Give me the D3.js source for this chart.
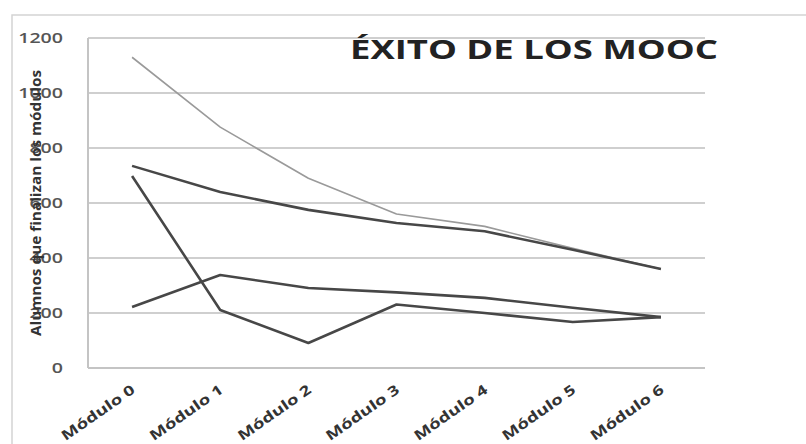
<!DOCTYPE html>
<html><head><meta charset="utf-8">
<script src="https://cdn.jsdelivr.net/npm/d3@7"></script>
<style>body{margin:0;background:#fff}svg{display:block}</style>
</head><body>
<script>
const categories = ["Módulo 0","Módulo 1","Módulo 2","Módulo 3","Módulo 4","Módulo 5","Módulo 6"];
const seriesA = [1130, 876, 690, 560, 515, 435, 360];
const seriesB = [735, 640, 575, 527, 497, 430, 360];
const seriesC = [698, 211, 91, 231, 200, 167, 185];
const seriesD = [222, 338, 291, 275, 255, 219, 185];
const yTicks = [0, 200, 400, 600, 800, 1000, 1200];
const title = "ÉXITO DE LOS MOOC";
const yTitle = "Alumnos que finalizan los módulos";

const W = 806, H = 444;
const svg = d3.select("body").append("svg").attr("width", W).attr("height", H);
svg.append("rect").attr("x", 12).attr("y", 15).attr("width", 820).attr("height", 460)
  .attr("fill", "#fff").attr("stroke", "#d4d4d4").attr("stroke-width", 1.5);

const x = d3.scaleBand().domain(categories).range([88, 705]);
const y = d3.scaleLinear().domain([0, 1200]).range([368, 38]);

// gridlines
svg.append("g").selectAll("line").data(yTicks.filter(d => d > 0)).join("line")
  .attr("x1", 88).attr("x2", 705).attr("y1", d => y(d)).attr("y2", d => y(d))
  .attr("stroke", "#cfcfcf").attr("stroke-width", 2);
// axes lines
svg.append("line").attr("x1", 88).attr("x2", 88).attr("y1", y(1200)).attr("y2", y(0))
  .attr("stroke", "#c4c4c4").attr("stroke-width", 2);
svg.append("line").attr("x1", 88).attr("x2", 705).attr("y1", y(0)).attr("y2", y(0))
  .attr("stroke", "#c4c4c4").attr("stroke-width", 2);

// y tick labels
svg.append("g").selectAll("text").data(yTicks).join("text")
  .attr("x", 63).attr("y", d => y(d) + 5).attr("text-anchor", "end")
  .attr("font-family", "Open Sans").attr("font-weight", 600).attr("font-size", 15)
  .attr("textLength", d => String(d).length * 11.2).attr("lengthAdjust", "spacingAndGlyphs")
  .attr("fill", "#555").text(d => d);

// x labels
svg.append("g").selectAll("text").data(categories).join("text")
  .attr("transform", d => `translate(${x(d) + x.bandwidth()/2 + 4},${392}) rotate(-35)`)
  .attr("text-anchor", "end")
  .attr("font-family", "Open Sans").attr("font-weight", 700).attr("font-size", 14)
  .attr("textLength", 86).attr("lengthAdjust", "spacingAndGlyphs")
  .attr("fill", "#333").text(d => d);

// y title
svg.append("text").attr("transform", "translate(41,203) rotate(-90)")
  .attr("text-anchor", "middle")
  .attr("font-family", "Open Sans").attr("font-weight", 700).attr("font-size", 14)
  .attr("textLength", 266).attr("lengthAdjust", "spacingAndGlyphs")
  .attr("fill", "#333").text(yTitle);

// lines
const line = d3.line().x((d, i) => x(categories[i]) + x.bandwidth()/2).y(d => y(d));
const series = [
  {v: seriesA, c: "#9a9a9a", w: 1.6},
  {v: seriesB, c: "#474747", w: 2.6},
  {v: seriesD, c: "#474747", w: 2.6},
  {v: seriesC, c: "#474747", w: 2.6}
];
svg.append("g").selectAll("path").data(series).join("path")
  .attr("d", d => line(d.v)).attr("fill", "none")
  .attr("stroke", d => d.c).attr("stroke-width", d => d.w)
  .attr("stroke-linejoin", "round");

// title
svg.append("text").attr("x", 350).attr("y", 59)
  .attr("font-family", "Open Sans").attr("font-weight", 700).attr("font-size", 27)
  .attr("textLength", 368).attr("lengthAdjust", "spacingAndGlyphs")
  .attr("fill", "#222").text(title);
</script>
</body></html>
